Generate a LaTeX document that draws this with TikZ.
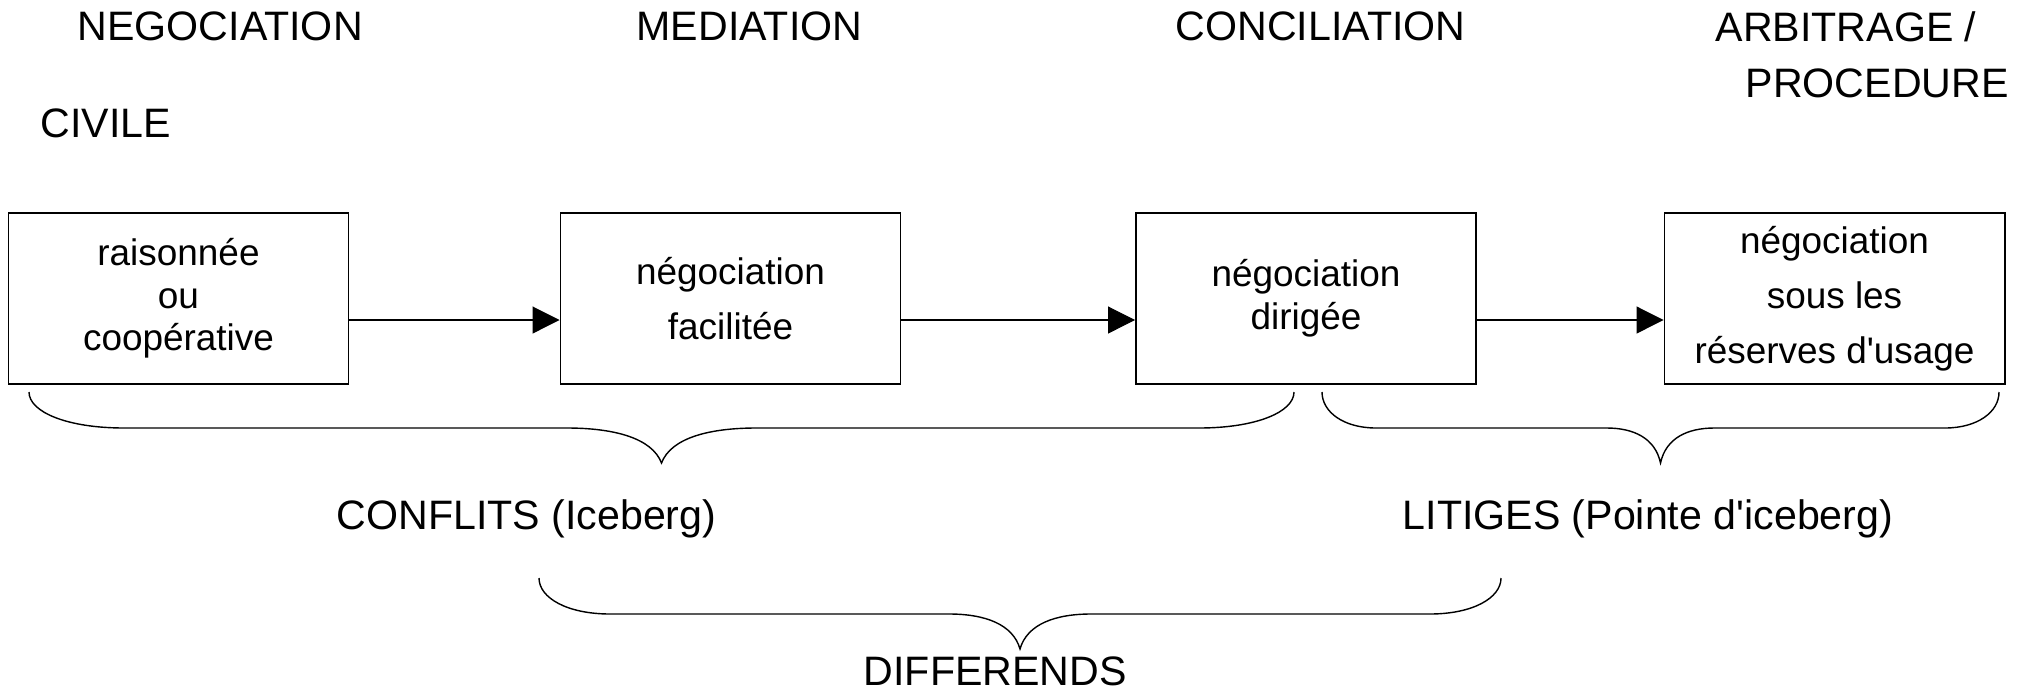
\documentclass[tikz,border=0pt]{standalone}
\usepackage{fontspec}
\setmainfont{Liberation Sans}
\usetikzlibrary{arrows.meta}
\tikzset{
  boite/.style={draw, line width=0.5pt, minimum width=3.40cm, minimum height=1.71cm,
    inner sep=0pt, align=center, font=\fontsize{10.5}{12.1}\selectfont},
  espace/.style={font=\fontsize{10.5}{15.6}\selectfont},
  titre/.style={anchor=base west, inner sep=0pt, font=\fontsize{11.7}{14}\selectfont},
  fleche/.style={-{Triangle[length=2.7mm,width=2.7mm]}, line width=0.3pt},
  trait/.style={line width=0.4pt}
}
% #1 gauche, #2 droite, #3 haut, #4 largeur des courbes
\newcommand{\accolade}[4]{%
  \draw [trait] (#1,#3) .. controls (#1,#3+20) and (#1+0.4*#4,#3+36) .. (#1+#4,#3+36)
    -- ({(#1+#2)/2-#4},#3+36) .. controls ({(#1+#2)/2-0.5*#4},#3+36) and ({(#1+#2)/2-0.1*#4},#3+46) .. ({(#1+#2)/2},#3+71)
    .. controls ({(#1+#2)/2+0.1*#4},#3+46) and ({(#1+#2)/2+0.5*#4},#3+36) .. ({(#1+#2)/2+#4},#3+36)
    -- (#2-#4,#3+36) .. controls (#2-0.4*#4,#3+36) and (#2,#3+20) .. (#2,#3);
}
\begin{document}
\begin{tikzpicture}[x=0.01cm, y=-0.01cm]
\useasboundingbox (0,0) rectangle (2040,691);
\node [titre] (nego) at (77,41) {NEGOCIATION};
\node [titre] (medi) at (636,41) {MEDIATION};
\node [titre] (conci) at (1175,41) {CONCILIATION};
\node [titre] (arbi) at (1715,42) {ARBITRAGE /};
\node [titre] (proc) at (1745,98) {PROCEDURE};
\node [titre] (civ) at (40,137) {CIVILE};
\node [boite] (raison) at (178.5,298.5) {raisonnée\\ou\\coopérative};
\node [boite, espace] (facil) at (730.5,298.5) {négociation\\facilitée};
\node [boite] (dirig) at (1306,298.5) {négociation\\dirigée};
\node [boite, espace] (usage) at (1834.5,298.5) {négociation\\sous les\\réserves d\textquotesingle usage};
\draw [fleche] ([yshift=-2.15mm]raison.east) -- ([yshift=-2.15mm]facil.west);
\draw [fleche] ([yshift=-2.15mm]facil.east) -- ([yshift=-2.15mm]dirig.west);
\draw [fleche] ([yshift=-2.15mm]dirig.east) -- ([yshift=-2.15mm]usage.west);
\accolade{29}{1294}{392}{95}
\accolade{1322}{1999}{392}{54}
\accolade{539}{1501}{578}{71}
\node [titre] (confl) at (336,529) {CONFLITS (Iceberg)};
\node [titre] (litig) at (1402,529) {LITIGES (Pointe d\textquotesingle iceberg)};
\node [titre] (diff) at (863,685) {DIFFERENDS};
\end{tikzpicture}
\end{document}
